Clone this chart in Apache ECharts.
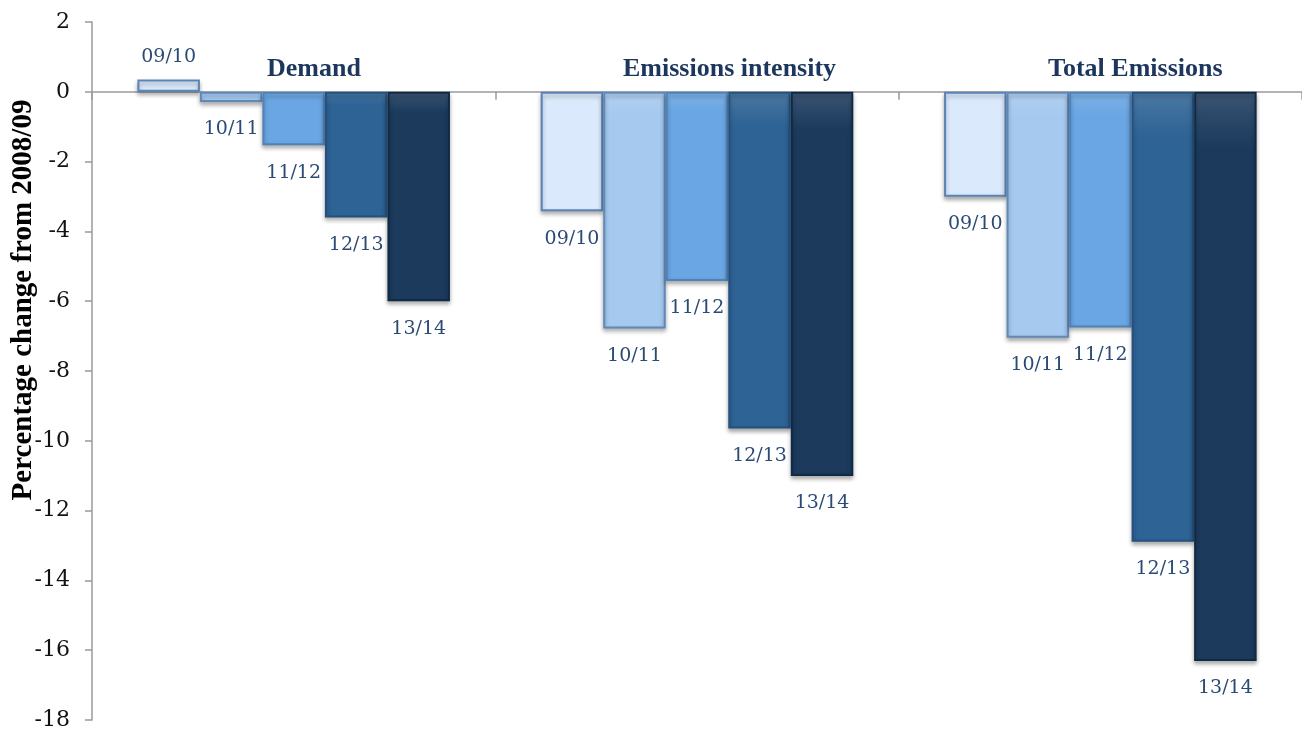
<!DOCTYPE html>
<html>
<head>
<meta charset="utf-8">
<script src="https://cdn.jsdelivr.net/npm/echarts@6/dist/echarts.min.js"></script>
<style>html,body{margin:0;padding:0;background:#fff;}#c{width:1302px;height:734px;}</style>
</head>
<body>
<div id="c"></div>
<script>
const categories = ['Demand', 'Emissions intensity', 'Total Emissions'];
const seriesNames = ['09/10', '10/11', '11/12', '12/13', '13/14'];
const s0910 = [0.35, -3.42, -3.01];
const s1011 = [-0.29, -6.78, -7.05];
const s1112 = [-1.53, -5.42, -6.75];
const s1213 = [-3.6, -9.65, -12.89];
const s1314 = [-6.0, -11.01, -16.31];
const yTicks = { min: -18, max: 2, interval: 2 };

const values = [s0910, s1011, s1112, s1213, s1314];
const fills = ['#dae9fb', '#a6c9f0', '#6aa6e3', '#2e6395', '#1b3a5c'];
const borders = ['#5b85b6', '#6189b8', '#4f82b8', '#245180', '#102a45'];

const chart = echarts.init(document.getElementById('c'));
const series = seriesNames.map((name, i) => ({
  name: name,
  type: 'bar',
  barGap: '0%',
  barCategoryGap: '22.5%',
  data: values[i].map(v => ({
    value: v,
    label: { position: v >= 0 ? 'top' : 'bottom', distance: v >= 0 ? 13 : 18 }
  })),
  itemStyle: {
    color: new echarts.graphic.LinearGradient(0, 0, 0, 1, [
      { offset: 0, color: echarts.color.lift(fills[i], 0.15) },
      { offset: 0.04, color: echarts.color.lift(fills[i], 0.08) },
      { offset: 0.1, color: fills[i] },
      { offset: 0.95, color: fills[i] },
      { offset: 1, color: fills[i] }
    ]),
    borderColor: borders[i],
    borderWidth: 2,
    shadowColor: 'rgba(0,0,0,0.3)',
    shadowBlur: 4,
    shadowOffsetY: 3
  },
  label: {
    show: true,
    formatter: () => name,
    fontFamily: 'DejaVu Serif',
    fontSize: 19,
    color: '#2b4a74'
  }
}));

chart.setOption({
  animation: false,
  backgroundColor: '#fff',
  grid: { left: 92, width: 1215, top: 22, bottom: 14 },
  xAxis: {
    type: 'category',
    data: categories,
    axisLine: { onZero: true, lineStyle: { color: '#9a9a9a', width: 1.5 } },
    axisTick: { show: true, length: 8, lineStyle: { color: '#9a9a9a', width: 1.5 } },
    axisLabel: { show: false }
  },
  yAxis: {
    type: 'value',
    min: yTicks.min,
    max: yTicks.max,
    interval: yTicks.interval,
    axisLine: { show: true, lineStyle: { color: '#9a9a9a', width: 1.5 } },
    axisTick: { show: true, length: 7, lineStyle: { color: '#9a9a9a', width: 1.5 } },
    splitLine: { show: false },
    axisLabel: { fontFamily: 'DejaVu Serif', fontSize: 22, color: '#111', margin: 22 }
  },
  series: series,
  graphic: [
    { type: 'text', left: 267, top: 56, style: { text: 'Demand', font: 'bold 26px "Liberation Serif"', fill: '#1c365e' } },
    { type: 'text', left: 623, top: 56, style: { text: 'Emissions intensity', font: 'bold 26px "Liberation Serif"', fill: '#1c365e' } },
    { type: 'text', left: 1048, top: 56, style: { text: 'Total Emissions', font: 'bold 26px "Liberation Serif"', fill: '#1c365e' } },
    { type: 'text', x: 24, y: 300, rotation: Math.PI / 2,
      style: { text: 'Percentage change from 2008/09', font: 'bold 29px "Liberation Serif"', fill: '#000', align: 'center', verticalAlign: 'middle' } }
  ]
});
</script>
</body>
</html>
